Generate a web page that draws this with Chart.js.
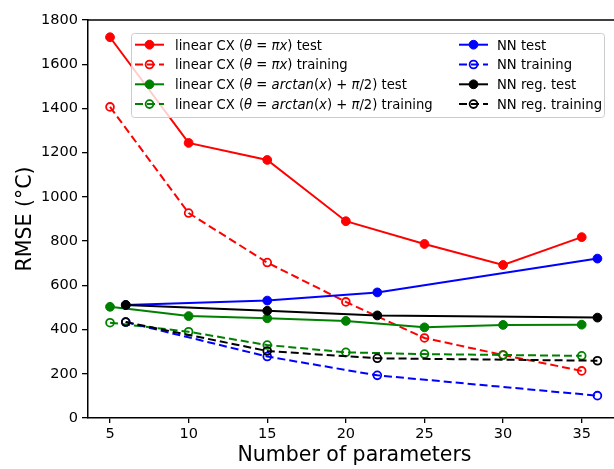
<!DOCTYPE html>
<html><head><meta charset="utf-8">
<script src="https://cdn.jsdelivr.net/npm/chart.js@4/dist/chart.umd.min.js"></script>
<style>html,body{margin:0;padding:0;background:#fff;overflow:hidden}#wrap{width:614px;height:469px;overflow:hidden;position:relative}</style>
</head><body><div id="wrap"><canvas id="c" width="640" height="469" style="width:640px;height:469px"></canvas></div>
<script>
const xTicks = [5, 10, 15, 20, 25, 30, 35];
const yTicks = [0, 200, 400, 600, 800, 1000, 1200, 1400, 1600, 1800];
const linX = [5, 10, 15, 20, 25, 30, 35];
const nnX = [6, 15, 22, 36];
const linPiTest = [1722, 1244, 1167, 890, 787, 692, 818];
const linPiTrain = [1407, 927, 703, 525, 362, 285, 213];
const linAtTest = [503, 461, 451, 439, 410, 421, 422];
const linAtTrain = [431, 390, 330, 297, 289, 285, 281];
const nnTest = [511, 531, 568, 721];
const nnTrain = [434, 278, 193, 101];
const nnRegTest = [511, 485, 464, 454];
const nnRegTrain = [434, 303, 270, 259];
const seriesLabels = [
  'linear CX (θ = πx) test',
  'linear CX (θ = πx) training',
  'linear CX (θ = arctan(x) + π/2) test',
  'linear CX (θ = arctan(x) + π/2) training',
  'NN test', 'NN training', 'NN reg. test', 'NN reg. training'
];
const colors = ['#ff0000', '#ff0000', '#008000', '#008000', '#0000ff', '#0000ff', '#000000', '#000000'];
const xLabel = 'Number of parameters';
const yLabel = 'RMSE (°C)';

const toPts = (xs, ys) => xs.map((x, i) => ({x: x, y: ys[i]}));
const seriesData = [
  toPts(linX, linPiTest), toPts(linX, linPiTrain), toPts(linX, linAtTest), toPts(linX, linAtTrain),
  toPts(nnX, nnTest), toPts(nnX, nnTrain), toPts(nnX, nnRegTest), toPts(nnX, nnRegTrain)
];
const DASH = [8, 4];
const datasets = seriesData.map((d, i) => {
  const open = i % 2 === 1;
  return {
    label: seriesLabels[i], data: d,
    borderColor: colors[i], backgroundColor: colors[i],
    borderWidth: 2, borderDash: open ? DASH : [],
    pointRadius: open ? 3.9 : 4.4,
    pointBorderWidth: open ? 1.8 : 1,
    pointBackgroundColor: open ? 'rgba(0,0,0,0)' : colors[i],
    pointBorderColor: colors[i],
    tension: 0, order: 8 - i
  };
});

const FONT = "'DejaVu Sans', sans-serif";
const legendPlugin = {
  id: 'mplLegend',
  afterDatasetsDraw(chart) {
    const ctx = chart.ctx;
    ctx.save();
    const ca = chart.chartArea;
    ctx.strokeStyle = '#000'; ctx.lineWidth = 1.5;
    ctx.beginPath(); ctx.moveTo(ca.left - 0.75, ca.top); ctx.lineTo(ca.right, ca.top); ctx.stroke();
    const bx = 131.5, by = 33.5, bw = 473, bh = 84, r = 3;
    ctx.beginPath();
    ctx.moveTo(bx + r, by); ctx.lineTo(bx + bw - r, by); ctx.arcTo(bx + bw, by, bx + bw, by + r, r);
    ctx.lineTo(bx + bw, by + bh - r); ctx.arcTo(bx + bw, by + bh, bx + bw - r, by + bh, r);
    ctx.lineTo(bx + r, by + bh); ctx.arcTo(bx, by + bh, bx, by + bh - r, r);
    ctx.lineTo(bx, by + r); ctx.arcTo(bx, by, bx + r, by, r); ctx.closePath();
    ctx.fillStyle = 'rgba(255,255,255,0.8)'; ctx.fill();
    ctx.strokeStyle = '#cccccc'; ctx.lineWidth = 1; ctx.stroke();
    const cols = [{hx: 135, tx: 175, items: [0, 1, 2, 3]}, {hx: 459, tx: 497, items: [4, 5, 6, 7]}];
    const fs = 13.2;
    cols.forEach(col => {
      col.items.forEach((di, row) => {
        const ds = chart.data.datasets[di];
        const y = 44.7 + row * 19.8;
        ctx.strokeStyle = ds.borderColor; ctx.lineWidth = 2;
        ctx.setLineDash(ds.borderDash);
        ctx.beginPath(); ctx.moveTo(col.hx, y); ctx.lineTo(col.hx + 29, y); ctx.stroke();
        ctx.setLineDash([]);
        ctx.beginPath(); ctx.arc(col.hx + 14.5, y, ds.pointRadius, 0, Math.PI * 2);
        ctx.fillStyle = ds.pointBackgroundColor; ctx.fill();
        ctx.lineWidth = ds.pointBorderWidth; ctx.strokeStyle = ds.pointBorderColor; ctx.stroke();
        ctx.fillStyle = '#000'; ctx.textBaseline = 'alphabetic'; ctx.textAlign = 'left';
        const parts = ds.label.split(/(θ|π|arctan|x)/).filter(s => s.length);
        let x = col.tx;
        parts.forEach(p => {
          const it = /^(θ|π|arctan|x)$/.test(p);
          ctx.font = (it ? 'oblique ' : '') + fs + 'px ' + FONT;
          ctx.fillText(p, x, y + 4.8);
          x += ctx.measureText(p).width;
        });
      });
    });
    ctx.restore();
  }
};

new Chart(document.getElementById('c'), {
  type: 'line',
  data: {datasets: datasets},
  plugins: [legendPlugin],
  options: {
    responsive: false, animation: false, devicePixelRatio: 1,
    layout: {padding: {top: 20, left: 0, right: 19, bottom: 0}},
    plugins: {legend: {display: false}, tooltip: {enabled: false}},
    scales: {
      x: {
        type: 'linear', min: 3.6, max: 37.5,
        afterBuildTicks: s => { s.ticks = xTicks.map(v => ({value: v})); },
        afterFit: s => { s.height = 51; },
        grid: {display: true, drawOnChartArea: false, drawTicks: true, tickLength: 5, color: '#000', lineWidth: 1.3},
        border: {display: true, color: '#000', width: 1.5},
        ticks: {color: '#000', font: {family: FONT, size: 14.5}, padding: 3, maxRotation: 0, autoSkip: false, callback: v => String(v)},
        title: {display: true, text: xLabel, color: '#000', font: {family: FONT, size: 20.5}, padding: {top: 0, bottom: 1}}
      },
      y: {
        type: 'linear', min: 0, max: 1800,
        afterBuildTicks: s => { s.ticks = yTicks.map(v => ({value: v})); },
        afterFit: s => { s.width = 88; },
        grid: {display: true, drawOnChartArea: false, drawTicks: true, tickLength: 6, color: '#000', lineWidth: 1.3},
        border: {display: true, color: '#000', width: 1.5},
        ticks: {color: '#000', font: {family: FONT, size: 14.5}, padding: 4, autoSkip: false, callback: v => String(v)},
        title: {display: true, text: yLabel, color: '#000', font: {family: FONT, size: 20.5}, padding: {top: 13, bottom: 0}}
      }
    }
  }
});
</script></body></html>
